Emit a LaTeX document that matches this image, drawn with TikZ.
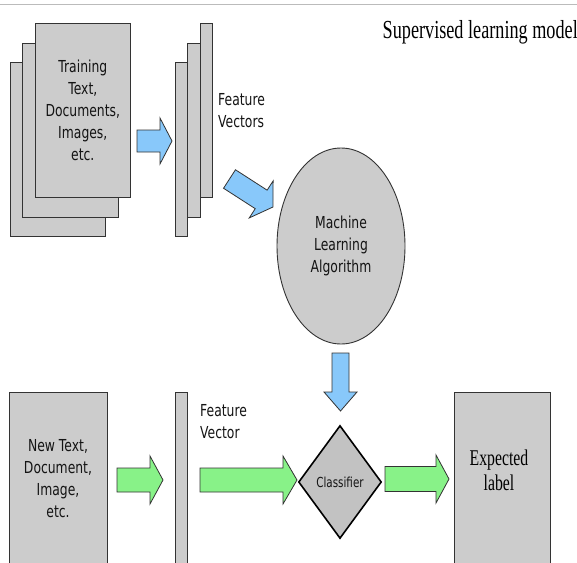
\documentclass[tikz,border=0pt]{standalone}
\usepackage{fontspec}
\usetikzlibrary{shapes.geometric}
\newfontfamily\dsans[FakeStretch=0.75]{DejaVu Sans}
\newfontfamily\lserif[FakeStretch=0.7]{Liberation Serif}
\definecolor{boxgray}{HTML}{CCCCCC}
\definecolor{diagray}{HTML}{C2C2C2}
\definecolor{edgegray}{HTML}{333333}
\definecolor{arrblue}{HTML}{88C8FA}
\definecolor{arrgreen}{HTML}{88F288}
\definecolor{linegray}{HTML}{BBBBBB}
\tikzset{
  doc/.style={draw=edgegray, fill=boxgray, line width=0.9pt, inner sep=0pt},
  sanstext/.style={font=\dsans\fontsize{16.5}{22}\selectfont, align=center, inner sep=0pt, text=black!92},
  bluearrow/.style={draw=edgegray, fill=arrblue, line width=0.8pt, line join=miter},
  greenarrow/.style={draw=edgegray, fill=arrgreen, line width=0.8pt, line join=miter},
  pics/blk/.style n args={5}{code={
    \draw[#5] (0,-#2) -- ({#1-#4},-#2) -- ({#1-#4},-#3) -- (#1,0) -- ({#1-#4},#3) -- ({#1-#4},#2) -- (0,#2) -- cycle;}}
}
\begin{document}
\begin{tikzpicture}[x=1pt,y=-1pt]
\clip (0,0) rectangle (577,562);
\fill[white] (0,0) rectangle (577,562);
\draw[linegray, line width=1pt] (0,4) -- (577,4);

% title
\node[font=\lserif\fontsize{26}{28}\selectfont, anchor=base east, inner sep=0pt] (title) at (578,38) {Supervised learning model};

% training stack
\node[doc, minimum width=95pt, minimum height=174pt] (t3) at (57.5,149) {};
\node[doc, minimum width=95.5pt, minimum height=174pt] (t2) at (70.2,130) {};
\node[doc, minimum width=95.5pt, minimum height=174pt] (t1) at (82.8,110) {};
\node[sanstext] (t1txt) at (t1.center) {Training\\Text,\\Documents,\\Images,\\etc.};

% feature vectors stack
\node[doc, minimum width=12.5pt, minimum height=174pt] (f3) at (181.3,149) {};
\node[doc, minimum width=12.5pt, minimum height=174pt] (f2) at (194,130) {};
\node[doc, minimum width=12.5pt, minimum height=174pt] (f1) at (206.5,110) {};
\node[sanstext, align=left, anchor=west] (fvtxt) at (218,111) {Feature\\Vectors};

% ML algorithm
\node[draw=edgegray, fill=boxgray, line width=0.9pt, ellipse, minimum width=128pt, minimum height=196pt, inner sep=0pt] (ml) at (341,246) {};
\node[sanstext] (mltxt) at (ml.center) {Machine\\Learning\\Algorithm};

% bottom row
\node[doc, minimum width=98pt, minimum height=190pt, anchor=north] (nt) at (58,392) {};
\node[sanstext] (nttxt) at (58,479) {New Text,\\Document,\\Image,\\etc.};
\node[doc, minimum width=12.5pt, minimum height=190pt, anchor=north] (fb) at (181.3,392) {};
\node[sanstext, align=left, anchor=west] (fbtxt) at (200,421.5) {Feature\\Vector};
\node[draw=black, fill=diagray, line width=1.6pt, diamond, minimum width=83pt, minimum height=113pt, inner sep=0pt] (cl) at (340,482) {};
\node[font=\dsans\fontsize{13.8}{16}\selectfont, inner sep=0pt, text=black!92] (cltxt) at (cl.center) {Classifier};
\node[doc, minimum width=96pt, minimum height=190pt, anchor=north] (el) at (502,392) {};
\node[font=\lserif\fontsize{22.5}{25}\selectfont, align=center, inner sep=0pt, text=black] (eltxt) at (499,470) {Expected\\label};

% block arrows
\pic at (137,141) {blk={35}{11}{23}{12}{bluearrow}};
\pic[rotate=-32.8] at (229.5,179) {blk={51.7}{11}{22}{14}{bluearrow}};
\pic[rotate=-90] at (340.5,353) {blk={58}{8.5}{16.5}{19}{bluearrow}};
\pic at (117,480) {blk={46}{12}{24}{13}{greenarrow}};
\pic at (200,480) {blk={97}{12}{24}{14}{greenarrow}};
\pic at (385,479) {blk={64}{12.5}{24}{13}{greenarrow}};
\end{tikzpicture}
\end{document}
